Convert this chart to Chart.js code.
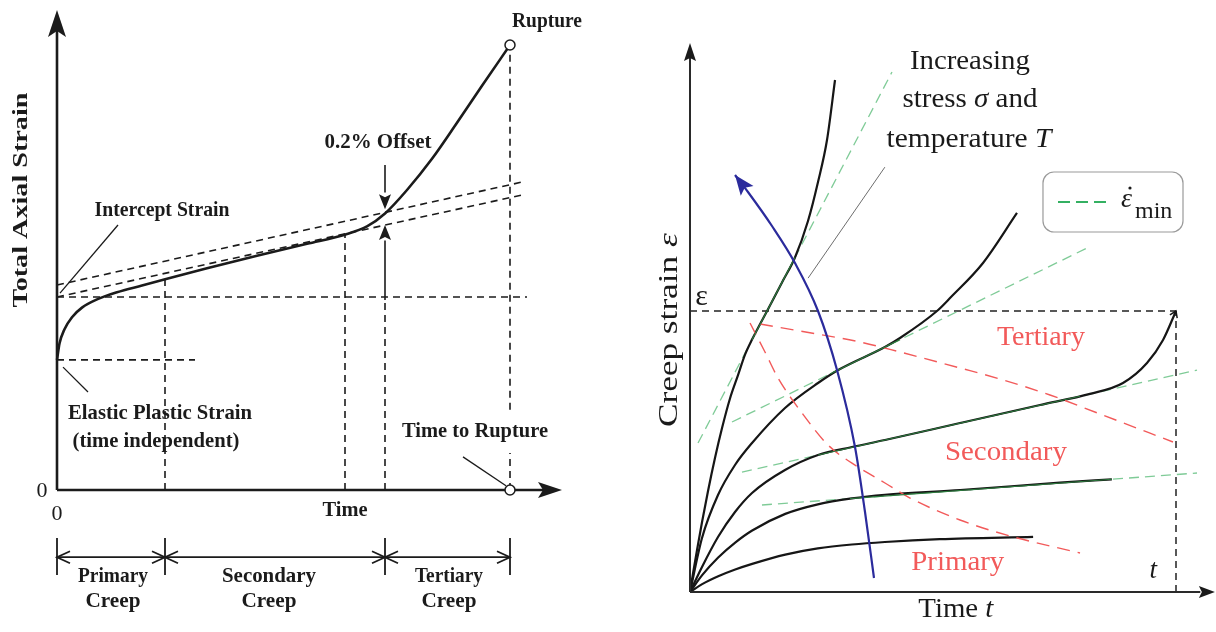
<!DOCTYPE html>
<html>
<head>
<meta charset="utf-8">
<title>Creep curves</title>
<script src="https://cdn.jsdelivr.net/npm/chart.js@4/dist/chart.umd.min.js"></script>
<style>
  html, body { margin: 0; padding: 0; background: #fff; }
  #wrap { position: relative; width: 1216px; height: 632px; overflow: hidden; }
  canvas { position: absolute; top: 0; }
  #leftPanel { left: 0; }
  #rightPanel { left: 608px; }
</style>
</head>
<body>
<div id="wrap">
  <canvas id="leftPanel" width="608" height="632"></canvas>
  <canvas id="rightPanel" width="608" height="632"></canvas>
</div>
<script>
// ===================== Left panel: a single creep test =====================
// time and total axial strain in arbitrary units (0..100 on both axes)
const creepTime   = [0, 0.5, 1.5, 3, 5, 8, 12, 17, 22, 30, 40, 50, 57.6, 62, 65.6, 70, 75, 80, 85, 90.6];
const creepStrain = [27.1, 30.5, 33.5, 36, 38, 39.7, 41.2, 42.6, 44.0, 46.2, 48.8, 51.3, 53.2, 54.9, 57.6, 62.5, 69, 76.5, 84.2, 92.7];

const stageBounds = [0, 21.6, 65.6, 90.6];          // primary | secondary | tertiary
const stageNames  = ['Primary', 'Secondary', 'Tertiary'];
const steadyEndTime = 57.6;                          // end of the straight secondary part
const steadyEndStrain = 53.2;
const primaryEndStrain = 43.9;
const elasticStrain = 27.1;
const interceptStrain = 40.2;
const ruptureTime = 90.6;
const ruptureStrain = 92.7;
const offsetStrain = 57.6;

const lineTime     = [0, 93.2];                      // secondary slope lines
const tangentStrain = [40.2, 61.5];
const offsetLine    = [42.7, 64.2];

// ===================== Right panel: family of creep curves =====================
// time t: 0..100 (100 = rupture of the curve that reaches ε); strain: 0..100 (100 = ε)
const curveAT = [0, 2.5, 5.8, 9.3, 12.8, 19.6, 26.3, 33.3, 40.1, 51.4, 70.6];
const curveAE = [0, 2.8, 5.6, 8.0, 10.0, 13.3, 15.5, 16.9, 17.8, 18.8, 19.6];

const curveBT = [0, 2.5, 5.8, 9.3, 12.8, 19.6, 26.3, 33.3, 40.1, 55.6, 76.1, 86.8];
const curveBE = [0, 6.0, 12.3, 17.6, 21.9, 27.8, 31.2, 33.3, 34.6, 36.3, 38.9, 40.1];

const curveCT = [0, 2.47, 5.76, 9.26, 12.76, 19.55, 26.34, 33.33, 40.12, 55.56, 72.02, 82.3, 89.09, 94.03, 97.33, 100];
const curveCE = [0, 8.9, 19.57, 28.47, 35.23, 43.42, 48.75, 51.6, 54.09, 60.14, 66.55, 70.5, 74.38, 81.49, 89.68, 100];

const curveDT = [0, 2.47, 5.76, 9.26, 12.76, 19.55, 26.34, 30.86, 40.12, 43.21, 50.82, 53.5, 60.29, 67.28];
const curveDE = [0, 19.22, 34.52, 45.2, 53.02, 65.48, 74.38, 79.36, 87.19, 90.39, 100, 104.6, 117.08, 134.88];

const curveET = [0, 0.62, 1.44, 2.47, 3.70, 5.14, 6.58, 8.23, 9.88, 11.32, 12.76, 16.05, 18.93, 21.60, 24.28, 26.34, 28.19, 29.84];
const curveEE = [0, 6.62, 14.91, 24.80, 35.87, 47.69, 58.26, 68.86, 77.15, 84.45, 89.82, 100.64, 110.18, 119.04, 132.03, 145.91, 160.85, 182.21];

// minimum creep rate lines (tangents to the secondary stage)
const rateE_T = [1.65, 41.56],  rateE_E = [53.0, 185.05];
const rateD_T = [8.64, 81.69],  rateD_E = [60.5, 122.42];
const rateC_T = [10.70, 104.32], rateC_E = [42.70, 79.00];
const rateB_T = [14.81, 104.32], rateB_E = [30.96, 42.35];
// parts of those lines where the curves run along them
const contactE_T = [12.76, 21.60], contactE_E = [89.75, 119.04];
const contactD_T = [28.81, 43.21], contactD_E = [77.6, 89.8];
const contactC_T = [26.34, 80.25], contactC_E = [48.75, 69.67];
const contactB_T = [32.92, 86.83], contactB_E = [33.26, 40.12];

// stage boundaries
const tertiaryOnsetT = [14.40, 22.63, 34.98, 43.21, 55.56, 63.79, 74.07, 84.36, 99.38];
const tertiaryOnsetE = [95.37, 92.88, 88.97, 85.41, 79.72, 75.80, 70.11, 63.35, 53.38];
const secondaryOnsetT = [12.35, 15.43, 18.11, 23.05, 28.40, 34.57, 40.12, 45.27, 55.56, 65.84, 80.25];
const secondaryOnsetE = [95.73, 85.41, 76.16, 63.70, 52.31, 44.48, 38.79, 33.45, 25.62, 19.93, 13.88];

// direction of increasing stress and temperature
const trendT = [9.26, 11.93, 16.87, 21.60, 26.34, 30.25, 33.95, 36.01, 37.86];
const trendE = [148.40, 142.35, 130.25, 117.08, 100.0, 79.00, 51.60, 28.47, 4.98];

const ruptureStrainLevel = 100;
const ruptureTimeLevel = 100;

// ---------------------------------------------------------------------------
const pts = (xs, ys) => xs.map((x, i) => ({ x: x, y: ys[i] }));

function line(xs, ys, style) {
  return Object.assign({
    data: pts(xs, ys),
    showLine: true,
    pointRadius: 0,
    fill: false,
    clip: false,
    tension: 0,
    borderCapStyle: 'butt'
  }, style);
}

const SERIF = "'Liberation Serif', 'DejaVu Serif', serif";

function rich(ctx, segs, x, y, o) {
  const weight = o.bold ? 'bold ' : '';
  const fonts = segs.map(s => (s[1] ? 'italic ' : '') + weight + o.size + 'px ' + SERIF);
  const widths = segs.map((s, i) => { ctx.font = fonts[i]; return ctx.measureText(s[0]).width; });
  const total = widths.reduce((a, b) => a + b, 0);
  const sx = o.width ? o.width / total : 1;
  ctx.save();
  ctx.translate(x, y);
  if (o.rotate) ctx.rotate(o.rotate);
  ctx.scale(sx, 1);
  ctx.fillStyle = o.color || '#1a1a1a';
  ctx.textBaseline = 'middle';
  ctx.textAlign = 'left';
  let cx = o.align === 'left' ? 0 : -total / 2;
  segs.forEach((s, i) => { ctx.font = fonts[i]; ctx.fillText(s[0], cx, 0); cx += widths[i]; });
  ctx.restore();
}

function head(ctx, tip, from, len, half, notch, color) {
  const ang = Math.atan2(tip[1] - from[1], tip[0] - from[0]);
  ctx.save();
  ctx.translate(tip[0], tip[1]);
  ctx.rotate(ang);
  ctx.fillStyle = color;
  ctx.beginPath();
  ctx.moveTo(0, 0);
  ctx.lineTo(-len, -half);
  ctx.lineTo(-len + notch, 0);
  ctx.lineTo(-len, half);
  ctx.closePath();
  ctx.fill();
  ctx.restore();
}

function chevron(ctx, tip, dir, len, half) {
  ctx.save();
  ctx.translate(tip[0], tip[1]);
  ctx.scale(dir, 1);
  ctx.beginPath();
  ctx.moveTo(-len, -half);
  ctx.lineTo(0, 0);
  ctx.lineTo(-len, half);
  ctx.stroke();
  ctx.restore();
}

function seg(ctx, a, b) {
  ctx.beginPath();
  ctx.moveTo(a[0], a[1]);
  ctx.lineTo(b[0], b[1]);
  ctx.stroke();
}

function baseOptions(pad, xMax, yMax) {
  return {
    responsive: false,
    animation: false,
    events: [],
    layout: { padding: pad },
    plugins: { legend: { display: false }, tooltip: { enabled: false } },
    scales: {
      x: { type: 'linear', min: 0, max: xMax, display: false },
      y: { type: 'linear', min: 0, max: yMax, display: false }
    }
  };
}

// ===================== Left chart =====================
const INK = '#1b1b1b';
const dash = { borderColor: INK, borderWidth: 1.6, borderDash: [7, 5] };

const leftAnnotations = {
  id: 'leftAnnotations',
  afterDatasetsDraw(chart) {
    const ctx = chart.ctx;
    const P = (t, s) => [chart.scales.x.getPixelForValue(t), chart.scales.y.getPixelForValue(s)];
    ctx.save();
    ctx.strokeStyle = INK;
    ctx.fillStyle = INK;

    // axes with arrowheads
    ctx.lineWidth = 2.6;
    seg(ctx, P(0, 0), P(0, 97));
    seg(ctx, P(0, 0), P(98, 0));
    head(ctx, P(0, 100), P(0, 0), 27, 9, 6, INK);
    head(ctx, P(101, 0), P(0, 0), 24, 8, 5, INK);

    // 0.2 % offset arrows
    ctx.lineWidth = 1.6;
    seg(ctx, P(stageBounds[2], 39.6), P(stageBounds[2], 52));
    head(ctx, P(stageBounds[2], 55.2), P(stageBounds[2], 0), 15, 6, 3, INK);
    seg(ctx, P(stageBounds[2], 67.7), P(stageBounds[2], 62));
    head(ctx, P(stageBounds[2], offsetStrain + 0.9), P(stageBounds[2], 80), 15, 6, 3, INK);

    // leader lines
    ctx.lineWidth = 1.3;
    seg(ctx, P(12.2, 55.2), P(0.6, 41.0));
    seg(ctx, P(1.2, 25.6), P(6.2, 20.4));
    seg(ctx, P(81.2, 6.9), P(89.8, 0.9));

    // rupture markers
    ctx.lineWidth = 1.5;
    ctx.fillStyle = '#fff';
    [[ruptureTime, ruptureStrain], [ruptureTime, 0]].forEach(p => {
      const c = P(p[0], p[1]);
      ctx.beginPath();
      ctx.arc(c[0], c[1], 5, 0, Math.PI * 2);
      ctx.fill();
      ctx.stroke();
    });
    ctx.fillStyle = INK;

    // stage brackets under the time axis
    ctx.lineWidth = 1.8;
    seg(ctx, P(stageBounds[0], -14), P(stageBounds[3], -14));
    stageBounds.forEach(t => seg(ctx, P(t, -10), P(t, -17.7)));
    for (let i = 0; i < 3; i++) {
      chevron(ctx, P(stageBounds[i], -14), -1, 13, 6);
      chevron(ctx, P(stageBounds[i + 1], -14), 1, 13, 6);
    }

    // texts
    const B = { bold: true, size: 21, color: INK };
    const T = (txt, t, s, w, extra) => { const p = P(t, s); rich(ctx, [[txt, false]], p[0], p[1], Object.assign({}, B, { width: w }, extra || {})); };
    T('Rupture', 91, 97.5, 70, { align: 'left' });
    T('0.2% Offset', 64.2, 72.3, 107);
    T('Intercept Strain', 21, 58.3, 135);
    T('Elastic Plastic Strain', 20.6, 16.0, 184);
    T('(time independent)', 19.8, 10.0, 167);
    T('Time to Rupture', 83.6, 12.1, 146);
    T('Time', 57.6, -4.2, 45);
    T('Total Axial Strain', -7, 60.4, 215, { rotate: -Math.PI / 2 });
    const stageCenters = [11.2, 42.4, 78.4];
    const stageWidths = [70, 94, 68];
    stageNames.forEach((n, i) => {
      T(n, stageCenters[i], -18.1, stageWidths[i]);
      T('Creep', stageCenters[i], -23.3, 55);
    });
    const Z = { size: 22, color: INK };
    let p = P(-3, -0.2); rich(ctx, [['0', false]], p[0], p[1], Z);
    p = P(0, -5); rich(ctx, [['0', false]], p[0], p[1], Z);
    ctx.restore();
  }
};

new Chart(document.getElementById('leftPanel'), {
  type: 'scatter',
  data: {
    datasets: [
      line(creepTime, creepStrain, { borderColor: INK, borderWidth: 2.6, cubicInterpolationMode: 'monotone', order: 0 }),
      line(lineTime, tangentStrain, Object.assign({ order: 1 }, dash)),
      line(lineTime, offsetLine, Object.assign({ order: 1 }, dash)),
      line([0, 94], [interceptStrain, interceptStrain], Object.assign({ order: 1 }, dash)),
      line([0, 27.6], [elasticStrain, elasticStrain], Object.assign({ order: 1 }, dash)),
      line([stageBounds[1], stageBounds[1]], [0, primaryEndStrain], Object.assign({ order: 1 }, dash)),
      line([steadyEndTime, steadyEndTime], [0, steadyEndStrain], Object.assign({ order: 1 }, dash)),
      line([stageBounds[2], stageBounds[2]], [0, 39.6], Object.assign({ order: 1 }, dash)),
      line([ruptureTime, ruptureTime], [0, 7.7], Object.assign({ order: 1 }, dash)),
      line([ruptureTime, ruptureTime], [16.7, ruptureStrain], Object.assign({ order: 1 }, dash))
    ]
  },
  options: baseOptions({ left: 57, right: 51, top: 10, bottom: 142 }, 100, 100),
  plugins: [leftAnnotations]
});

// ===================== Right chart =====================
const BLACK = '#161616';
const GREEN_DASH = 'rgba(120,200,145,0.95)';
const GREEN_DARK = '#2d7a3e';
const RED = '#f25a5a';
const BLUE = '#2b2b9c';
const curveStyle = { borderColor: BLACK, borderWidth: 2.2, cubicInterpolationMode: 'monotone', order: 3 };
const rateStyle = { borderColor: GREEN_DASH, borderWidth: 1.3, borderDash: [10, 6], order: 4 };
const contactStyle = { borderColor: GREEN_DARK, borderWidth: 1.2, order: 1 };
const stageStyle = { borderColor: RED, borderWidth: 1.4, borderDash: [13, 8], cubicInterpolationMode: 'monotone', order: 2 };
const limitStyle = { borderColor: '#222', borderWidth: 1.5, borderDash: [7, 5], order: 5 };

const rightAnnotations = {
  id: 'rightAnnotations',
  afterDatasetsDraw(chart) {
    const ctx = chart.ctx;
    const P = (t, e) => [chart.scales.x.getPixelForValue(t), chart.scales.y.getPixelForValue(e)];
    ctx.save();

    // axes
    ctx.strokeStyle = '#2a2a2a';
    ctx.lineWidth = 2;
    seg(ctx, P(0, 0), P(0, 190));
    seg(ctx, P(0, 0), P(105, 0));
    head(ctx, P(0, 195.4), P(0, 0), 18, 6, 3, '#1a1a1a');
    head(ctx, P(108, 0), P(0, 0), 16, 6, 3, '#1a1a1a');

    // rupture end of the tertiary curve
    const n = curveCT.length;
    ctx.strokeStyle = BLACK;
    ctx.lineWidth = 1.5;
    const tip = P(curveCT[n - 1], curveCE[n - 1]);
    const prev = P(curveCT[n - 2], curveCE[n - 2]);
    const a = Math.atan2(tip[1] - prev[1], tip[0] - prev[0]);
    ctx.save();
    ctx.translate(tip[0], tip[1]);
    ctx.rotate(a);
    ctx.beginPath();
    ctx.moveTo(-6, -4); ctx.lineTo(0, 0); ctx.lineTo(-6, 4);
    ctx.stroke();
    ctx.restore();

    // arrowhead of the stress/temperature trend
    head(ctx, P(trendT[0], trendE[0]), P(trendT[1], trendE[1]), 20, 8, 4, BLUE);

    // leader from the label to the steepest curve
    ctx.strokeStyle = '#6d6d6d';
    ctx.lineWidth = 1;
    seg(ctx, P(40.1, 151.2), P(24.3, 111.7));

    // legend box
    const b0 = P(72.63, 149.47), b1 = P(101.44, 128.11);
    ctx.strokeStyle = '#9a9a9a';
    ctx.lineWidth = 1.2;
    ctx.beginPath();
    ctx.roundRect(b0[0], b0[1], b1[0] - b0[0], b1[1] - b0[1], 11);
    ctx.stroke();
    ctx.strokeStyle = '#34b062';
    ctx.lineWidth = 2;
    ctx.setLineDash([12, 6]);
    seg(ctx, P(75.72, 138.79), P(86.83, 138.79));
    ctx.setLineDash([]);
    let p = P(88.68, 139.5);
    rich(ctx, [['ε', true]], p[0], p[1], { size: 28, color: '#1a1a1a', align: 'left' });
    ctx.fillStyle = '#1a1a1a';
    ctx.beginPath();
    ctx.arc(p[0] + 9, p[1] - 12, 1.6, 0, Math.PI * 2);
    ctx.fill();
    p = P(91.56, 135.23);
    rich(ctx, [['min', false]], p[0], p[1], { size: 24, color: '#1a1a1a', align: 'left' });

    // texts
    const K = { size: 28, color: '#1a1a1a' };
    const R = (segs, t, e, w, extra) => { const q = P(t, e); rich(ctx, segs, q[0], q[1], Object.assign({}, K, { width: w }, extra || {})); };
    R([['Increasing', false]], 57.6, 188.6, 120);
    R([['stress ', false], ['σ', true], [' and', false]], 57.6, 175.1, 135);
    R([['temperature ', false], ['T', true]], 57.4, 160.9, 165);
    R([['Creep strain ', false], ['ε', true]], -4.2, 93.2, 194, { rotate: -Math.PI / 2 });
    R([['Time ', false], ['t', true]], 54.7, -6.4, 75);
    R([['ε', false]], 2.4, 105, null, { size: 30 });
    R([['t', true]], 95.3, 7.5, null, { size: 27 });
    const redText = { color: RED };
    R([['Tertiary', false]], 72.2, 90.4, 88, redText);
    R([['Secondary', false]], 65.0, 49.5, 122, redText);
    R([['Primary', false]], 55.1, 10.3, 93, redText);
    ctx.restore();
  }
};

new Chart(document.getElementById('rightPanel'), {
  type: 'scatter',
  data: {
    datasets: [
      line(trendT, trendE, { borderColor: BLUE, borderWidth: 2.2, cubicInterpolationMode: 'monotone', order: 0 }),
      line(contactE_T, contactE_E, contactStyle),
      line(contactD_T, contactD_E, contactStyle),
      line(contactC_T, contactC_E, contactStyle),
      line(contactB_T, contactB_E, contactStyle),
      line(tertiaryOnsetT, tertiaryOnsetE, stageStyle),
      line(secondaryOnsetT, secondaryOnsetE, stageStyle),
      line(curveAT, curveAE, curveStyle),
      line(curveBT, curveBE, curveStyle),
      line(curveCT, curveCE, curveStyle),
      line(curveDT, curveDE, curveStyle),
      line(curveET, curveEE, curveStyle),
      line(rateE_T, rateE_E, rateStyle),
      line(rateD_T, rateD_E, rateStyle),
      line(rateC_T, rateC_E, rateStyle),
      line(rateB_T, rateB_E, rateStyle),
      line([0, ruptureTimeLevel], [ruptureStrainLevel, ruptureStrainLevel], limitStyle),
      line([ruptureTimeLevel, ruptureTimeLevel], [0, ruptureStrainLevel], limitStyle)
    ]
  },
  options: baseOptions({ left: 82, right: 40, top: 311, bottom: 40 }, 100, 100),
  plugins: [rightAnnotations]
});
</script>
</body>
</html>
